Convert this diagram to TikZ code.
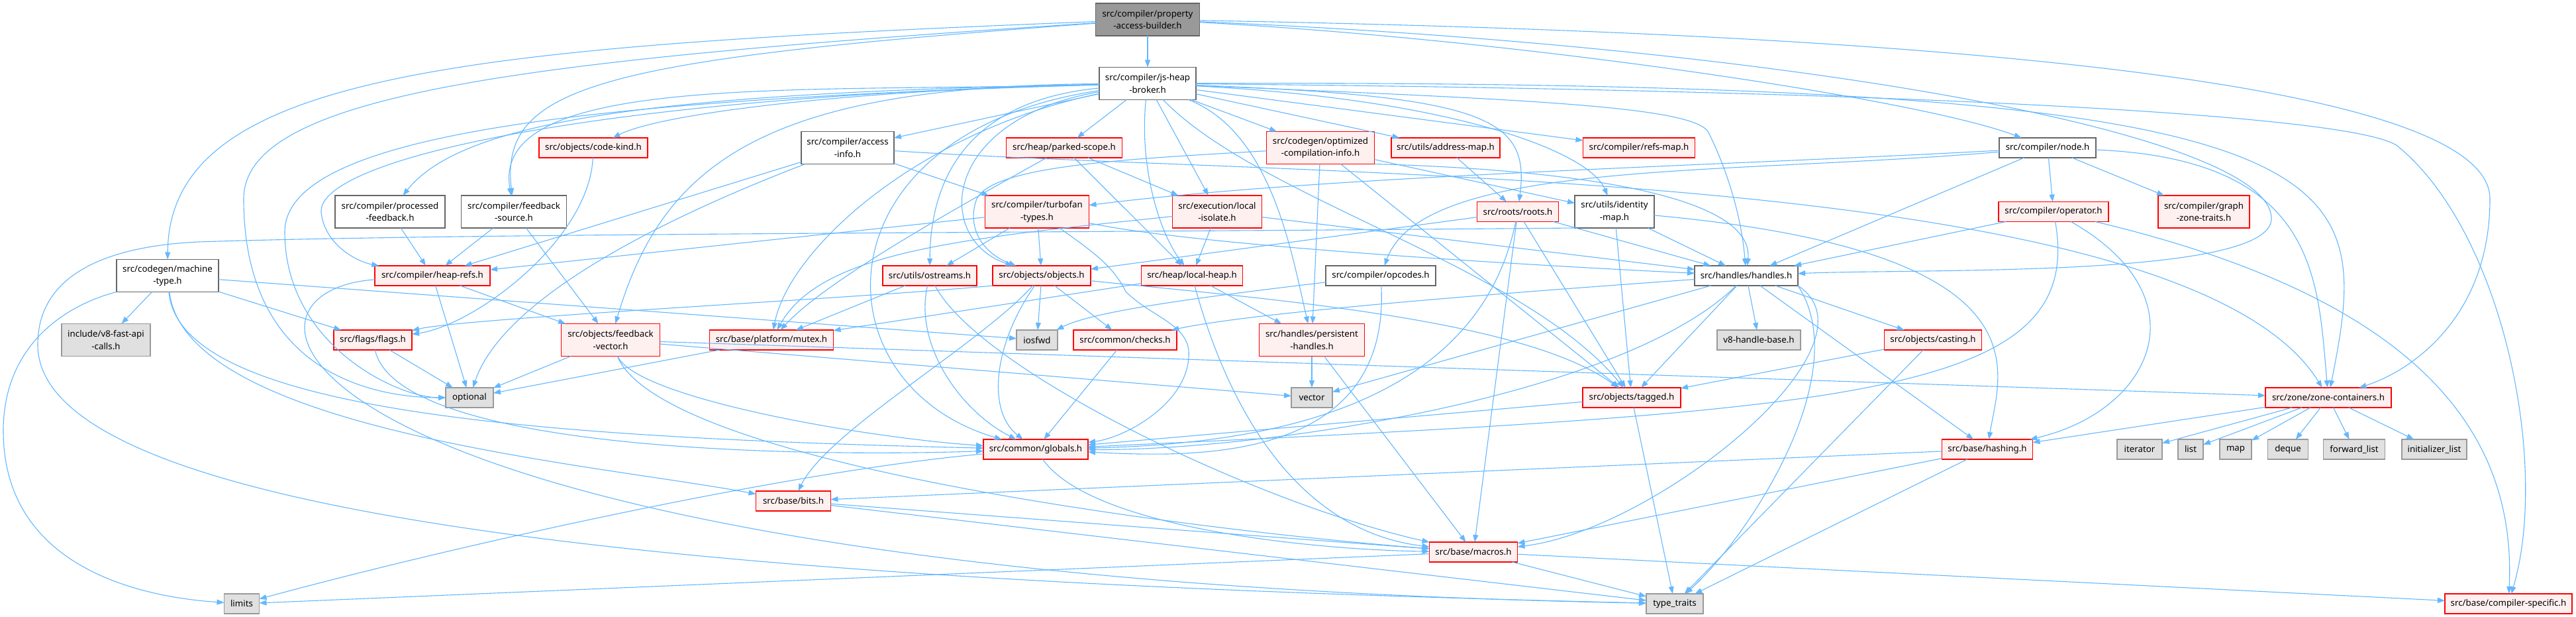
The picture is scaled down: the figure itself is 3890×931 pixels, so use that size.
\documentclass[tikz,border=0pt]{standalone}
\usepackage{fontspec}
\setmainfont{Noto Sans}
\usetikzlibrary{arrows.meta}
\definecolor{eblue}{HTML}{63B8FF}
\definecolor{redb}{HTML}{FF0000}
\definecolor{redf}{HTML}{FFF0F0}
\definecolor{grayE}{HTML}{E0E0E0}
\definecolor{grayn}{HTML}{999999}
\definecolor{grays}{HTML}{666666}
\newcommand\nfont{\fontsize{13.3}{18.7}\selectfont}
\tikzset{
  bx/.style={inner sep=0pt, outer sep=0pt, align=center, line width=1.4pt, font=\nfont, minimum height=30pt},
  wbox/.style={bx, draw=grays, fill=white},
  rbox/.style={bx, draw=redb, fill=redf},
  gbox/.style={bx, draw=grayn, fill=grayE},
  rtbox/.style={bx, draw=grays, fill=grayn},
  two/.style={minimum height=49pt},
  ln/.style={draw=eblue, line width=1.1pt, -{Triangle[length=11pt,width=8pt]}},
}
\begin{document}
\begin{tikzpicture}[x=1pt,y=-1pt]
\path[use as bounding box, fill=white] (0,0) rectangle (3890,931);
% row 1-2
\node[rtbox,two,minimum width=157pt] (pab) at (1733,29.5) {src/compiler/property\\-access-builder.h};
\node[wbox,two,minimum width=146pt] (jhb) at (1733,126) {src/compiler/js-heap\\-broker.h};
% row 3
\node[rbox,minimum width=164pt] (codekind) at (896,223) {src/objects/code-kind.h};
\node[wbox,two,minimum width=140pt] (accessinfo) at (1280,223) {src/compiler/access\\-info.h};
\node[rbox,minimum width=175pt] (parked) at (1607,223) {src/heap/parked-scope.h};
\node[rbox,two,minimum width=163pt] (optinfo) at (1994,223) {src/codegen/optimized\\-compilation-info.h};
\node[rbox,minimum width=164pt] (addrmap) at (2183,223) {src/utils/address-map.h};
\node[rbox,minimum width=169pt] (refsmap) at (2475,223) {src/compiler/refs-map.h};
\node[wbox,minimum width=146pt] (cnode) at (3092,223) {src/compiler/node.h};
% row 4
\node[wbox,two,minimum width=166pt] (processed) at (589,319.5) {src/compiler/processed\\-feedback.h};
\node[wbox,two,minimum width=159pt] (fbsource) at (776,319.5) {src/compiler/feedback\\-source.h};
\node[rbox,two,minimum width=157pt] (turbofan) at (1566,319.5) {src/compiler/turbofan\\-types.h};
\node[rbox,two,minimum width=135pt] (localiso) at (1838,319.5) {src/execution/local\\-isolate.h};
\node[rbox,minimum width=123pt] (roots) at (2292,319.5) {src/roots/roots.h};
\node[wbox,two,minimum width=120pt] (idmap) at (2438,319.5) {src/utils/identity\\-map.h};
\node[rbox,minimum width=166pt] (operator) at (3101,319.5) {src/compiler/operator.h};
\node[rbox,two,minimum width=138pt] (gzt) at (3328,319.5) {src/compiler/graph\\-zone-traits.h};
% row 5
\node[wbox,two,minimum width=154pt] (machtype) at (253,416) {src/codegen/machine\\-type.h};
\node[rbox,minimum width=174pt] (heaprefs) at (653,416) {src/compiler/heap-refs.h};
\node[rbox,minimum width=142pt] (ostreams) at (1404,416) {src/utils/ostreams.h};
\node[rbox,minimum width=148pt] (objects) at (1573,416) {src/objects/objects.h};
\node[rbox,minimum width=153pt] (localheap) at (1800,416) {src/heap/local-heap.h};
\node[wbox,minimum width=166pt] (opcodes) at (2085,416) {src/compiler/opcodes.h};
\node[wbox,minimum width=156pt] (handles) at (2637,416) {src/handles/handles.h};
% row 6
\node[gbox,two,minimum width=134pt] (fastapi) at (160,513) {include/v8-fast-api\\-calls.h};
\node[rbox,minimum width=118pt] (flags) at (563,513) {src/flags/flags.h};
\node[rbox,two,minimum width=149pt] (fbvector) at (922,513) {src/objects/feedback\\-vector.h};
\node[rbox,minimum width=187pt] (mutex) at (1165,513) {src/base/platform/mutex.h};
\node[gbox,minimum width=62pt] (iosfwd) at (1566,513) {iosfwd};
\node[rbox,minimum width=156pt] (checks) at (1699,513) {src/common/checks.h};
\node[rbox,two,minimum width=159pt] (persistent) at (1981,513) {src/handles/persistent\\-handles.h};
\node[gbox,minimum width=126pt] (v8hb) at (2656,513) {v8-handle-base.h};
\node[rbox,minimum width=147pt] (casting) at (2919,513) {src/objects/casting.h};
% row 7
\node[gbox,minimum width=72pt] (optional) at (709,600) {optional};
\node[gbox,minimum width=62pt] (vector) at (1981,600) {vector};
\node[rbox,minimum width=148pt] (tagged) at (2464,600) {src/objects/tagged.h};
\node[rbox,minimum width=190pt] (zonec) at (3516,600) {src/zone/zone-containers.h};
% row 8
\node[rbox,minimum width=158pt] (globals) at (1564,678) {src/common/globals.h};
\node[rbox,minimum width=137pt] (hashing) at (3001,678) {src/base/hashing.h};
\node[gbox,minimum width=68pt] (iterator) at (3231,678) {iterator};
\node[gbox,minimum width=38pt] (list) at (3308,678) {list};
\node[gbox,minimum width=48pt] (map) at (3376,678) {map};
\node[gbox,minimum width=61pt] (deque) at (3455,678) {deque};
\node[gbox,minimum width=93pt] (fwdlist) at (3555,678) {forward\_list};
\node[gbox,minimum width=98pt] (initlist) at (3676,678) {initializer\_list};
% rows 9-11
\node[rbox,minimum width=113pt] (bits) at (1198,756) {src/base/bits.h};
\node[rbox,minimum width=133pt] (macros) at (2225,833) {src/base/macros.h};
\node[gbox,minimum width=53pt] (limits) at (365,911) {limits};
\node[gbox,minimum width=86pt] (typetraits) at (2529,911) {type\_traits};
\node[rbox,minimum width=192pt] (compspec) at (3788,911) {src/base/compiler-specific.h};

% ---------- edges: property-access-builder
\draw[ln] (pab) -- (jhb);
\draw[ln] (pab) .. controls (700,70) and (255,110) .. (machtype);
\draw[ln] (pab) .. controls (800,90) and (368,140) .. (368,300) .. controls (368,560) and (560,600) .. (optional);
\draw[ln] (pab) .. controls (900,90) and (755,130) .. (fbsource);
\draw[ln] (pab) .. controls (2300,60) and (2900,150) .. (cnode);
\draw[ln] (pab) .. controls (2700,70) and (3430,200) .. (3430,330) .. controls (3430,420) and (2900,405) .. (handles);
\draw[ln] (pab) .. controls (2900,50) and (3760,120) .. (3760,300) .. controls (3760,480) and (3640,560) .. (zonec);
% ---------- js-heap-broker
\draw[ln] (jhb) .. controls (900,150) and (430,200) .. (430,350) .. controls (430,520) and (600,600) .. (optional);
\draw[ln] (jhb) .. controls (1200,140) and (740,110) .. (fbsource);
\draw[ln] (jhb) .. controls (1000,140) and (700,180) .. (processed);
\draw[ln] (jhb) .. controls (900,145) and (480,240) .. (485,320) .. controls (490,370) and (540,395) .. (heaprefs);
\draw[ln] (jhb) .. controls (1300,135) and (1000,170) .. (codekind);
\draw[ln] (jhb) -- (accessinfo);
\draw[ln] (jhb) -- (parked);
\draw[ln] (jhb) -- (optinfo);
\draw[ln] (jhb) -- (addrmap);
\draw[ln] (jhb) -- (refsmap);
\draw[ln] (jhb) .. controls (2250,145) and (2310,180) .. (roots);
\draw[ln] (jhb) .. controls (2200,150) and (2400,230) .. (idmap);
\draw[ln] (jhb) .. controls (2300,150) and (2560,160) .. (2580,200) .. controls (2610,260) and (2630,330) .. (handles);
\draw[ln] (jhb) -- (localiso);
\draw[ln] (jhb) .. controls (1720,250) and (1750,350) .. (localheap);
\draw[ln] (jhb) .. controls (1420,180) and (1410,360) .. (objects);
\draw[ln] (jhb) .. controls (1480,150) and (1405,250) .. (ostreams);
\draw[ln] (jhb) .. controls (1380,200) and (1190,380) .. (mutex);
\draw[ln] (jhb) .. controls (1230,200) and (1230,580) .. (globals);
\draw[ln] (jhb) .. controls (1920,200) and (1950,380) .. (persistent);
\draw[ln] (jhb) .. controls (1150,130) and (1000,250) .. (fbvector);
\draw[ln] (jhb) .. controls (1900,300) and (2300,400) .. (tagged);
\draw[ln] (jhb) .. controls (3585,120) and (3585,250) .. (zonec);
\draw[ln] (jhb) .. controls (2800,135) and (3550,170) .. (3620,220) .. controls (3780,350) and (3850,700) .. (compspec);
% ---------- machine-type
\draw[ln] (machtype) -- (fastapi);
\draw[ln] (machtype) -- (flags);
\draw[ln] (machtype) -- (iosfwd);
\draw[ln] (machtype) .. controls (270,620) and (800,660) .. (globals);
\draw[ln] (machtype) .. controls (280,650) and (900,700) .. (bits);
\draw[ln] (machtype.south west) .. controls (100,460) and (5,520) .. (5,650) .. controls (5,850) and (200,900) .. (limits);
% ---------- compiler headers
\draw[ln] (codekind) .. controls (890,360) and (720,490) .. (flags);
\draw[ln] (processed) -- (heaprefs);
\draw[ln] (fbsource) -- (heaprefs);
\draw[ln] (fbsource) -- (fbvector);
\draw[ln] (accessinfo) -- (heaprefs);
\draw[ln] (accessinfo) -- (turbofan);
\draw[ln] (accessinfo) .. controls (1000,330) and (760,450) .. (optional);
\draw[ln] (accessinfo) .. controls (2000,270) and (3300,250) .. (zonec);
\draw[ln] (heaprefs) -- (optional);
\draw[ln] (heaprefs) -- (fbvector);
\draw[ln] (heaprefs) .. controls (300,440) and (400,870) .. (typetraits);
\draw[ln] (parked) -- (localheap);
\draw[ln] (parked) -- (localiso);
\draw[ln] (parked) .. controls (1470,300) and (1250,420) .. (mutex);
\draw[ln] (optinfo) .. controls (1700,240) and (1500,250) .. (1475,300) .. controls (1460,340) and (1480,380) .. (objects);
\draw[ln] (optinfo) -- (persistent);
\draw[ln] (optinfo) -- (tagged);
\draw[ln] (optinfo) -- (idmap);
\draw[ln] (optinfo.south east) .. controls (2350,255) and (2650,290) .. (handles);
\draw[ln] (addrmap) -- (roots);
\draw[ln] (roots) -- (objects);
\draw[ln] (roots) .. controls (2230,620) and (1900,670) .. (globals);
\draw[ln] (roots) -- (macros);
\draw[ln] (roots) -- (tagged);
\draw[ln] (roots) -- (handles);
\draw[ln] (idmap) -- (handles);
\draw[ln] (idmap) -- (tagged);
\draw[ln] (idmap) .. controls (3100,380) and (3020,560) .. (hashing);
\draw[ln] (idmap.south west) .. controls (1500,352) and (700,352) .. (300,365) .. controls (150,372) and (57,420) .. (57,520) .. controls (57,800) and (1200,880) .. (typetraits);
\draw[ln] (cnode) -- (operator);
\draw[ln] (cnode) -- (gzt);
\draw[ln] (cnode) .. controls (2600,250) and (2000,265) .. (turbofan);
\draw[ln] (cnode) -- (handles);
\draw[ln] (cnode) .. controls (2600,265) and (2150,240) .. (opcodes);
\draw[ln] (cnode) .. controls (3500,240) and (3500,420) .. (zonec);
\draw[ln] (operator) -- (handles);
\draw[ln] (operator) .. controls (3150,600) and (2800,620) .. (globals);
\draw[ln] (operator) .. controls (3330,450) and (3250,620) .. (hashing);
\draw[ln] (operator) .. controls (3650,450) and (3800,650) .. (compspec);
\draw[ln] (turbofan) -- (ostreams);
\draw[ln] (turbofan) -- (objects);
\draw[ln] (turbofan) -- (heaprefs);
\draw[ln] (turbofan) .. controls (1800,370) and (2300,400) .. (handles);
\draw[ln] (turbofan) .. controls (1650,380) and (1680,400) .. (1700,440) .. controls (1740,480) and (1800,490) .. (1795,540) .. controls (1790,610) and (1700,660) .. (globals);
% ---------- execution / heap / utils
\draw[ln] (localiso) -- (localheap);
\draw[ln] (localiso) -- (handles);
\draw[ln] (localiso) .. controls (1450,360) and (1240,380) .. (mutex);
\draw[ln] (localheap) -- (mutex);
\draw[ln] (localheap) -- (persistent);
\draw[ln] (localheap) .. controls (1850,600) and (1950,800) .. (macros);
\draw[ln] (ostreams) -- (mutex);
\draw[ln] (ostreams) .. controls (1380,520) and (1450,620) .. (globals);
\draw[ln] (ostreams) .. controls (1480,560) and (1900,760) .. (macros);
\draw[ln] (objects.south west) .. controls (1300,450) and (700,480) .. (flags);
\draw[ln] (objects) .. controls (1480,520) and (1250,650) .. (bits);
\draw[ln] (objects) .. controls (1500,520) and (1490,620) .. (globals);
\draw[ln] (objects) -- (iosfwd);
\draw[ln] (objects) -- (checks);
\draw[ln] (objects) .. controls (1900,450) and (2300,480) .. (tagged);
\draw[ln] (opcodes) .. controls (2100,700) and (1800,690) .. (globals);
\draw[ln] (opcodes) .. controls (1800,450) and (1650,470) .. (iosfwd);
% ---------- handles
\draw[ln] (handles) .. controls (2300,440) and (1900,470) .. (checks);
\draw[ln] (handles) .. controls (2450,600) and (1900,680) .. (globals);
\draw[ln] (handles) -- (casting);
\draw[ln] (handles) -- (tagged);
\draw[ln] (handles) -- (v8hb);
\draw[ln] (handles) -- (vector);
\draw[ln] (handles.south east) .. controls (2850,520) and (2500,800) .. (macros);
\draw[ln] (handles.south east) .. controls (2800,560) and (2650,800) .. (typetraits);
\draw[ln] (handles) -- (hashing);
% ---------- lower layers
\draw[ln] (flags) -- (optional);
\draw[ln] (flags) .. controls (600,680) and (1200,690) .. (globals);
\draw[ln] (fbvector) -- (optional);
\draw[ln] (fbvector) -- (vector);
\draw[ln] (fbvector) .. controls (1000,700) and (1800,800) .. (macros);
\draw[ln] (fbvector) .. controls (960,600) and (1300,660) .. (globals);
\draw[ln] (fbvector) -- (zonec);
\draw[ln] (mutex) -- (optional);
\draw[ln] (checks) -- (globals);
\draw[ln] (persistent) -- (vector);
\draw[ln] (persistent) -- (macros);
\draw[ln] (casting) -- (tagged);
\draw[ln] (casting) -- (typetraits);
\draw[ln] (tagged) -- (globals);
\draw[ln] (tagged) -- (typetraits);
\draw[ln] (zonec) -- (hashing);
\draw[ln] (zonec) -- (iterator);
\draw[ln] (zonec) -- (list);
\draw[ln] (zonec) -- (map);
\draw[ln] (zonec) -- (deque);
\draw[ln] (zonec) -- (fwdlist);
\draw[ln] (zonec) -- (initlist);
\draw[ln] (globals) .. controls (1200,710) and (700,820) .. (limits);
\draw[ln] (globals) .. controls (1650,800) and (2000,830) .. (macros);
\draw[ln] (hashing) -- (bits);
\draw[ln] (hashing) -- (macros);
\draw[ln] (hashing) -- (typetraits);
\draw[ln] (bits) -- (macros);
\draw[ln] (bits) -- (typetraits);
\draw[ln] (macros) -- (limits);
\draw[ln] (macros) -- (typetraits);
\draw[ln] (macros) -- (compspec);
\end{tikzpicture}
\end{document}
